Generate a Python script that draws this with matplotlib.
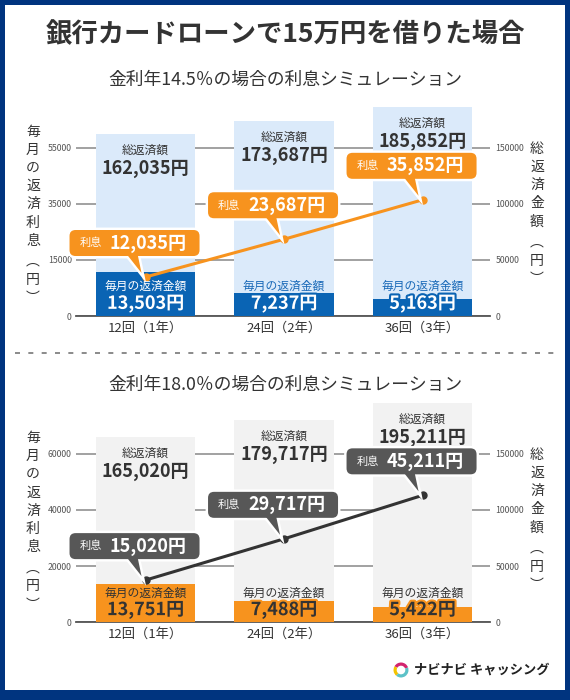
import matplotlib
matplotlib.use('Agg')
import numpy as np
import matplotlib.pyplot as plt
from matplotlib import patheffects as pe
from matplotlib.lines import Line2D
from matplotlib.patches import FancyBboxPatch, Polygon, Rectangle, Wedge
from matplotlib.transforms import IdentityTransform

plt.rcParams['font.family'] = ['Noto Sans CJK JP', 'DejaVu Sans']

W, H = 570, 700

# ---- data ----
title = '銀行カードローンで15万円を借りた場合'
categories = ['12回（1年）', '24回（2年）', '36回（3年）']

subtitle_145 = '金利年14.5％の場合の利息シミュレーション'
total_145 = [162035, 173687, 185852]
monthly_145 = [13503, 7237, 5163]
interest_145 = [12035, 23687, 35852]
left_ticklabels_145 = ['0', '15000', '35000', '55000']
left_top_145 = 52000   # value the drawing puts at the top gridline

subtitle_180 = '金利年18.0％の場合の利息シミュレーション'
total_180 = [165020, 179717, 195211]
monthly_180 = [13751, 7488, 5422]
interest_180 = [15020, 29717, 45211]
left_ticklabels_180 = ['0', '20000', '40000', '60000']
left_top_180 = 60000

right_ticks = [0, 50000, 100000, 150000]
left_axis_label = '毎月の返済利息（円）'
right_axis_label = '総返済金額（円）'
total_label = '総返済額'
monthly_label = '毎月の返済金額'
interest_label = '利息'
brand = 'ナビナビ キャッシング'

fig = plt.figure(figsize=(W / 100, H / 100), dpi=100)
fig.patch.set_facecolor('#00347f')
fig.add_artist(Rectangle((5 / W, 10 / H), 560 / W, 685 / H, transform=fig.transFigure,
                         facecolor='white', edgecolor='none', zorder=-5))

PIX = IdentityTransform()


def fy(y):
    return 1 - y / H


def yen(v):
    return f'{v:,}円'


def vertical_label(text, x, y0, step=18.2):
    # stack the characters one below the other, parentheses in vertical form
    text = text.replace('（', '︵').replace('）', '︶')
    y = y0
    for ch in text:
        if ch == '︵':
            y += 3
        fig.text(x / W, fy(y), ch, fontsize=10, color='#333333',
                 ha='center', va='center')
        y += step


def callout(px, py, color, value):
    # px, py in display pixels (origin bottom-left)
    bw, bh = 130, 26
    bx = px - 11 - bw / 2
    by = py + 21
    tri = [(px - 19, by + 2), (px - 8, by + 2), (px - 4, py + 4)]
    for fc, ec, lw, z in [('white', 'white', 3.5, 5), (color, 'none', 0, 6)]:
        fig.add_artist(Polygon(tri, closed=True, transform=PIX, facecolor=fc,
                               edgecolor=ec, linewidth=lw, zorder=z))
        fig.add_artist(FancyBboxPatch((bx, by), bw, bh, boxstyle='round,pad=0,rounding_size=6',
                                      transform=PIX, facecolor=fc, edgecolor=ec,
                                      linewidth=lw, zorder=z))
    fig.text(bx + 10, by + bh / 2, interest_label, transform=PIX, fontsize=8,
             color='white', ha='left', va='center', zorder=7)
    fig.text(bx + 40, by + bh / 2, yen(value), transform=PIX, fontsize=13,
             fontweight='bold', color='white', ha='left', va='center', zorder=7)


def draw_panel(base, top, subtitle, sub_y, total, monthly, interest, left_ticklabels,
               left_top, light, dark, line_color, box_color, lab_in, lab_out, val_color):
    height = base - top
    ax = fig.add_axes([76 / W, fy(base), 414 / W, height / H])
    axl = ax.twinx()
    x = np.arange(len(categories))
    ymax = height * 150000 / 168.5

    ax.set_xlim(-0.502, 2.487)
    ax.set_ylim(0, ymax)
    axl.set_ylim(0, ymax * left_top / 150000)

    ax.set_axisbelow(True)
    ax.yaxis.grid(True, color='#9a9a9a', linewidth=1.3)
    for s in ['top', 'left', 'right']:
        ax.spines[s].set_visible(False)
        axl.spines[s].set_visible(False)
    axl.spines['bottom'].set_visible(False)
    ax.spines['bottom'].set_color('#555555')
    ax.spines['bottom'].set_linewidth(1.3)

    ax.yaxis.tick_right()
    ax.set_yticks(right_ticks)
    ax.set_yticklabels([str(t) for t in right_ticks])
    ax.tick_params(axis='y', length=0, pad=4, labelsize=6.3, labelcolor='#555555')
    axl.yaxis.tick_left()
    axl.set_yticks(np.linspace(0, left_top, len(left_ticklabels)))
    axl.set_yticklabels(left_ticklabels)
    axl.tick_params(axis='y', length=0, pad=3, labelsize=6.3, labelcolor='#555555')

    ax.set_xticks(x)
    ax.set_xticklabels(categories)
    ax.tick_params(axis='x', length=0, pad=4, labelsize=9.5, labelcolor='#333333')

    width = 0.72
    ax.bar(x, total, width, color=light, zorder=2)
    axl.bar(x, monthly, width, color=dark, zorder=2)
    axl.plot(x, interest, color=line_color, linewidth=2.2, marker='o',
             markersize=5, zorder=4)

    for xi, t in zip(x, total):
        ax.annotate(total_label, xy=(xi, t), xytext=(0, -16), textcoords='offset pixels',
                    ha='center', va='center', fontsize=8.5, color='#333333')
        ax.annotate(yen(t), xy=(xi, t), xytext=(0, -34.5), textcoords='offset pixels',
                    ha='center', va='center', fontsize=13, fontweight='bold', color='#333333')

    for xi, m in zip(x, monthly):
        bar_px = axl.transData.transform((xi, m))[1] - axl.transData.transform((xi, 0))[1]
        c = lab_in if bar_px > 36 else lab_out
        axl.annotate(monthly_label, xy=(xi, 0), xytext=(0, 29.5), textcoords='offset pixels',
                     ha='center', va='center', fontsize=8.5, color=c, zorder=5)
        axl.annotate(yen(m), xy=(xi, 0), xytext=(0, 12.5), textcoords='offset pixels',
                     ha='center', va='center', fontsize=13, fontweight='bold',
                     color=val_color, zorder=5,
                     path_effects=[pe.withStroke(linewidth=3, foreground=dark)])

    for xi, v in zip(x, interest):
        px, py = axl.transData.transform((xi, v))
        callout(px, py, box_color, v)

    fig.text(285 / W, fy(sub_y), subtitle, ha='center', va='center', fontsize=12.8,
             color='#333333')
    vertical_label(left_axis_label, 33, base - 184.5)
    vertical_label(right_axis_label, 537, base - 167.5)


fig.text(285 / W, fy(35), title, ha='center', va='center', fontsize=19,
         fontweight='bold', color='#333333')

draw_panel(316, 100, subtitle_145, 80, total_145, monthly_145, interest_145,
           left_ticklabels_145, left_top_145, light='#dbeafa', dark='#0a64b4',
           line_color='#f7931e', box_color='#f7931e', lab_in='white',
           lab_out='#1a6ab8', val_color='white')

draw_panel(622.3, 400, subtitle_180, 385, total_180, monthly_180, interest_180,
           left_ticklabels_180, left_top_180, light='#f2f2f2', dark='#f7931e',
           line_color='#333333', box_color='#575757', lab_in='#333333',
           lab_out='#333333', val_color='#333333')

# dotted separator between the two panels
fig.add_artist(Line2D([15 / W, 555 / W], [fy(353), fy(353)], color='#777777',
                      linewidth=1.2, dashes=(3, 5)))

# brand mark
cx, cy = 401, H - 670
for t1, t2, c in [(20, 150, '#d3246e'), (150, 230, '#f4c300'), (230, 380, '#5cc2c8')]:
    fig.add_artist(Wedge((cx, cy), 7.5, t1, t2, width=3.2, transform=PIX,
                         facecolor=c, edgecolor='none'))
fig.text(414 / W, fy(670), brand, ha='left', va='center', fontsize=9.5,
         fontweight='bold', color='#222222')

fig.savefig('out.png', dpi=100, facecolor=fig.get_facecolor())
